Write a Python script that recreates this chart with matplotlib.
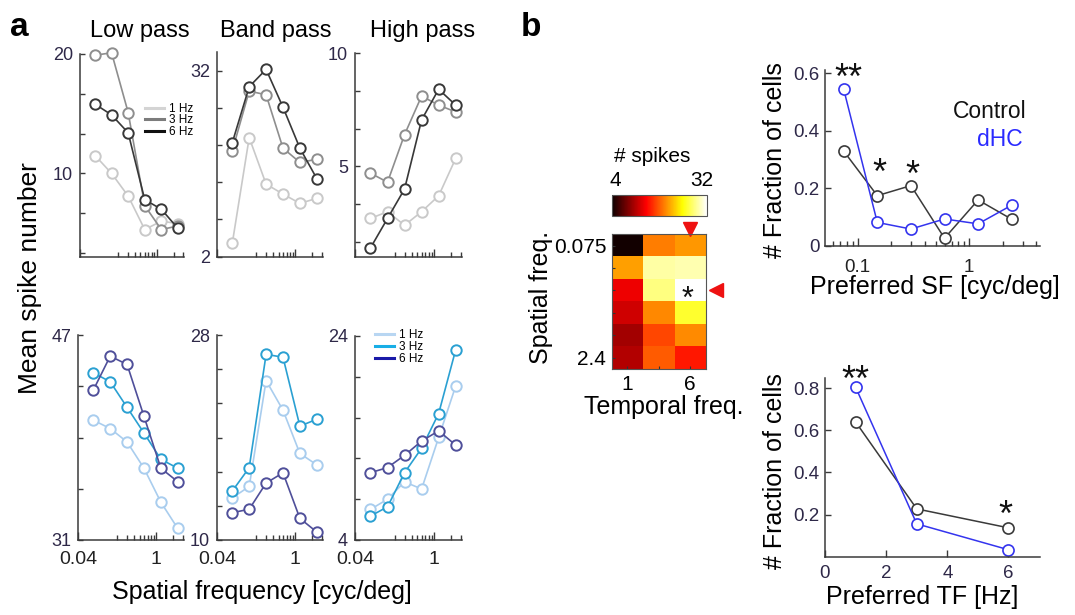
import numpy as np
import matplotlib
matplotlib.use('Agg')
import matplotlib.pyplot as plt
from matplotlib.lines import Line2D
from matplotlib.ticker import NullFormatter

plt.rcParams['font.family'] = ['Liberation Sans', 'DejaVu Sans']

W, H = 1075, 615

# ---- panel a: tuning curves (mean spike number vs spatial frequency)
sf = [0.075, 0.15, 0.3, 0.6, 1.2, 2.4]
tf_names = ['1 Hz', '3 Hz', '6 Hz']

low_top = [[11.5, 10.0, 8.1, 5.3, 6.0, 5.8],
           [19.9, 20.1, 15.1, 7.3, 5.3, 5.6],
           [15.8, 14.9, 13.4, 7.8, 7.0, 5.4]]
band_top = [[4.2, 21.2, 13.7, 12.1, 10.6, 11.4],
            [19.1, 28.7, 28.1, 19.5, 17.2, 17.7],
            [20.4, 29.4, 32.2, 26.1, 19.5, 14.6]]
high_top = [[2.7, 3.0, 2.4, 3.0, 3.7, 5.35],
            [4.7, 4.3, 6.4, 8.1, 7.7, 7.4],
            [1.4, 2.7, 4.0, 7.05, 8.4, 7.7]]
low_bot = [[40.35, 39.7, 38.65, 36.6, 33.95, 31.9],
           [44.05, 43.35, 41.35, 39.35, 37.3, 36.6],
           [42.7, 45.35, 44.7, 40.65, 36.6, 35.55]]
band_bot = [[13.7, 14.7, 24.0, 21.4, 17.6, 16.6],
            [14.3, 16.35, 26.3, 26.05, 20.0, 20.6],
            [12.4, 12.7, 15.0, 15.9, 11.9, 10.7]]
high_bot = [[7.0, 8.0, 9.7, 9.0, 14.05, 19.1],
            [6.35, 7.25, 10.6, 13.0, 16.4, 22.65],
            [10.6, 11.1, 12.3, 13.7, 14.7, 13.3]]

# ---- panel b
heat_spikes = [[4.4, 19.5, 20.6],
               [20.9, 29.4, 29.8],
               [13.6, 28.4, 32.0],
               [12.3, 19.9, 26.2],
               [10.4, 17.2, 20.0],
               [11.1, 18.0, 15.2]]
heat_sf_labels = ['0.075', '', '', '', '', '2.4']
heat_tf_labels = ['1', '', '6']

sf_pref = [0.075, 0.15, 0.3, 0.6, 1.2, 2.4]
sf_control = [0.33, 0.175, 0.21, 0.027, 0.16, 0.093]
sf_dhc = [0.545, 0.082, 0.059, 0.094, 0.077, 0.142]
tf_pref = [1, 3, 6]
tf_control = [0.64, 0.227, 0.137]
tf_dhc = [0.805, 0.156, 0.033]

fig = plt.figure(figsize=(W / 100, H / 100), dpi=100)


def px_axes(l, t, r, b):
    return fig.add_axes([l / W, 1 - b / H, (r - l) / W, (b - t) / H])


def ftext(x, y, s, **kw):
    return fig.text(x / W, 1 - y / H, s, **kw)


axis_col = '#3a3a3a'
tick_col = '#2e2848'


def style(ax):
    for s in ['top', 'right']:
        ax.spines[s].set_visible(False)
    for s in ['left', 'bottom']:
        ax.spines[s].set_color(axis_col)
        ax.spines[s].set_linewidth(1.1)
    ax.tick_params(which='both', direction='in', color=axis_col, width=1.0)


gray_cols = ['#c9c9c9', '#8e8e8e', '#383838']
blue_cols = ['#a9cdee', '#2aa0d2', '#4f4f9a']

panels = [
    (low_top, (80, 54, 184, 257), (3.0, 20),
     [20 - 10 / 3 * k for k in range(6)], ['20', '', '', '10', '', ''], gray_cols, False),
    (band_top, (217, 52, 323, 257), (1.95, 35),
     [2, 8, 14, 20, 26, 32], ['2', '', '', '', '', '32'], gray_cols, False),
    (high_top, (355, 53, 462, 257), (1.0, 10),
     [10 - 5 / 3 * k for k in range(6)], ['10', '', '', '5', '', ''], gray_cols, False),
    (low_bot, (78, 335, 184, 540), (31, 47),
     [31, 35, 39, 43, 47], ['31', '', '', '', '47'], blue_cols, True),
    (band_bot, (217, 335, 323, 540), (10, 28),
     [10, 13, 16, 19, 22, 25, 28], ['10', '', '', '', '', '', '28'], blue_cols, True),
    (high_bot, (355, 336, 462, 540), (4, 24),
     [4, 8, 12, 16, 20, 24], ['4', '', '', '', '', '24'], blue_cols, True),
]

axes_a = []
for data, rect, ylim, yt, ytl, cols, bottom in panels:
    ax = px_axes(*rect)
    style(ax)
    for vals, c in zip(data, cols):
        ax.plot(sf, vals, '-o', color=c, lw=1.2, ms=7.5, mfc='white', mec=c,
                mew=1.4, clip_on=False)
    ax.set_xscale('log')
    ax.set_xlim(0.04, 3.1)
    ax.set_xticks([0.04, 1])
    ax.set_xticks([0.2, 0.3, 0.4, 0.5, 0.6, 0.7, 0.8, 0.9, 2, 3], minor=True)
    ax.xaxis.set_minor_formatter(NullFormatter())
    ax.set_xticklabels(['0.04', '1'] if bottom else ['', ''])
    ax.set_ylim(*ylim)
    ax.set_yticks(yt)
    ax.set_yticklabels(ytl)
    ax.tick_params(axis='x', which='major', length=6, labelsize=14, pad=8,
                   labelcolor='#222222')
    ax.tick_params(axis='x', which='minor', length=3.5)
    ax.tick_params(axis='y', length=3.5, labelsize=13, pad=5, labelcolor=tick_col)
    axes_a.append(ax)

top_leg = [Line2D([], [], color=c, lw=2.2) for c in ['#d4d4d4', '#7c7c7c', '#111111']]
axes_a[0].legend(top_leg, tf_names, loc='upper left', frameon=False, fontsize=8.5,
                 handlelength=1.6, handletextpad=0.4, labelspacing=-0.05,
                 borderpad=0, borderaxespad=0,
                 bbox_to_anchor=(145 / W, 1 - 103 / H), bbox_transform=fig.transFigure)
bot_leg = [Line2D([], [], color=c, lw=2.2) for c in ['#b8d6f2', '#18aee6', '#1a1aa8']]
axes_a[5].legend(bot_leg, tf_names, loc='upper left', frameon=False, fontsize=8.5,
                 handlelength=1.6, handletextpad=0.4, labelspacing=0.0,
                 borderpad=0, borderaxespad=0,
                 bbox_to_anchor=(375 / W, 1 - 329 / H), bbox_transform=fig.transFigure)

ftext(10, 36, 'a', fontsize=24, fontweight='bold', va='baseline', ha='left')
ftext(521, 36, 'b', fontsize=24, fontweight='bold', va='baseline', ha='left')
for x, t in [(140, 'Low pass'), (276, 'Band pass'), (423, 'High pass')]:
    ftext(x, 37, t, fontsize=17, ha='center', va='baseline')
ftext(30, 278, 'Mean spike number', fontsize=19, rotation=90, ha='center', va='center')
ftext(262, 592, 'Spatial frequency [cyc/deg]', fontsize=18, ha='center', va='center')

# ---- heatmap
axh = px_axes(611.7, 234.3, 705.7, 369)
im = axh.imshow(np.array(heat_spikes), cmap='hot', vmin=4, vmax=32, aspect='auto')
axh.plot([2], [-0.75], marker='v', color='#ee1111', ms=10, clip_on=False, ls='none')
axh.plot([2.83], [2], marker='<', color='#ee1111', ms=10, clip_on=False, ls='none')
axh.set_xlim(-0.5, 2.5)
axh.set_ylim(5.5, -0.5)
axh.set_xticks(range(3))
axh.set_xticklabels(heat_tf_labels)
axh.set_yticks(range(6))
axh.set_yticklabels(heat_sf_labels)
axh.tick_params(direction='in', length=2.5, color='#333333', labelsize=15, pad=4)
for s in axh.spines.values():
    s.set_color('#555555')
    s.set_linewidth(0.8)
ftext(688, 308, '*', fontsize=22, ha='center', va='baseline', color='#111111')

cax = px_axes(611.7, 195, 706.7, 215.7)
cb = fig.colorbar(im, cax=cax, orientation='horizontal')
cb.set_ticks([])
cb.outline.set_edgecolor('#555555')
cb.outline.set_linewidth(0.8)
ftext(652, 156, '# spikes', fontsize=15, ha='center', va='center')
ftext(615, 181, '4', fontsize=15, ha='center', va='center')
ftext(702, 181, '32', fontsize=15, ha='center', va='center')
ftext(541, 297, 'Spatial freq.', fontsize=18, rotation=90, ha='center', va='center')
ftext(664, 407, 'Temporal freq.', fontsize=18, ha='center', va='center')

# ---- preferred SF distribution
ctrl_col = '#3a3a3a'
dhc_col = '#3434ee'
ax_sf = px_axes(825, 70, 1040, 246)
style(ax_sf)
ax_sf.plot(sf_pref, sf_control, '-o', color=ctrl_col, lw=1.1, ms=8, mfc='white',
           mec=ctrl_col, mew=1.2, clip_on=False)
ax_sf.plot(sf_pref, sf_dhc, '-o', color=dhc_col, lw=1.1, ms=8, mfc='white',
           mec=dhc_col, mew=1.2, clip_on=False)
ax_sf.set_xscale('log')
ax_sf.set_xlim(0.051, 4.3)
ax_sf.set_ylim(0, 0.612)
ax_sf.set_xticks([0.1, 1])
ax_sf.set_xticklabels(['0.1', '1'])
ax_sf.xaxis.set_minor_formatter(NullFormatter())
ax_sf.set_yticks([0, 0.2, 0.4, 0.6])
ax_sf.set_yticklabels(['0', '0.2', '0.4', '0.6'])
ax_sf.tick_params(axis='x', which='major', length=6, labelsize=13.5, pad=9, labelcolor='#222222')
ax_sf.tick_params(axis='x', which='minor', length=3.5)
ax_sf.tick_params(axis='y', length=4, labelsize=13.5, pad=4, labelcolor=tick_col)
ftext(1027, 112, 'Control', fontsize=16.5, ha='right', va='center', color='#111111')
ftext(1023, 140, 'dHC', fontsize=16.5, ha='right', va='center', color='#2a2aff')
ftext(775, 160, '# Fraction of cells', fontsize=18, rotation=90, ha='center', va='center')
ftext(935, 287, 'Preferred SF [cyc/deg]', fontsize=18, ha='center', va='center')
for x, y, s in [(848, 89, '**'), (879, 184, '*'), (912, 186, '*')]:
    ftext(x, y, s, fontsize=26, ha='center', va='baseline', color='#111111')

# ---- preferred TF distribution
ax_tf = px_axes(825, 378.3, 1040, 556.7)
style(ax_tf)
ax_tf.plot(tf_pref, tf_control, '-o', color=ctrl_col, lw=1.1, ms=8, mfc='white',
           mec=ctrl_col, mew=1.2, clip_on=False)
ax_tf.plot(tf_pref, tf_dhc, '-o', color=dhc_col, lw=1.1, ms=8, mfc='white',
           mec=dhc_col, mew=1.2, clip_on=False)
ax_tf.set_xlim(0, 7.03)
ax_tf.set_ylim(0, 0.847)
ax_tf.set_xticks([0, 2, 4, 6])
ax_tf.set_yticks([0.2, 0.4, 0.6, 0.8])
ax_tf.set_yticklabels(['0.2', '0.4', '0.6', '0.8'])
ax_tf.tick_params(axis='x', length=5, labelsize=13.5, pad=6, labelcolor=tick_col)
ax_tf.tick_params(axis='y', length=4, labelsize=13.5, pad=4, labelcolor=tick_col)
ftext(775, 471, '# Fraction of cells', fontsize=18, rotation=90, ha='center', va='center')
ftext(922, 597, 'Preferred TF [Hz]', fontsize=18, ha='center', va='center')
for x, y, s in [(855, 391, '**'), (1005, 526, '*')]:
    ftext(x, y, s, fontsize=26, ha='center', va='baseline', color='#111111')

fig.savefig('out.png', dpi=100)
